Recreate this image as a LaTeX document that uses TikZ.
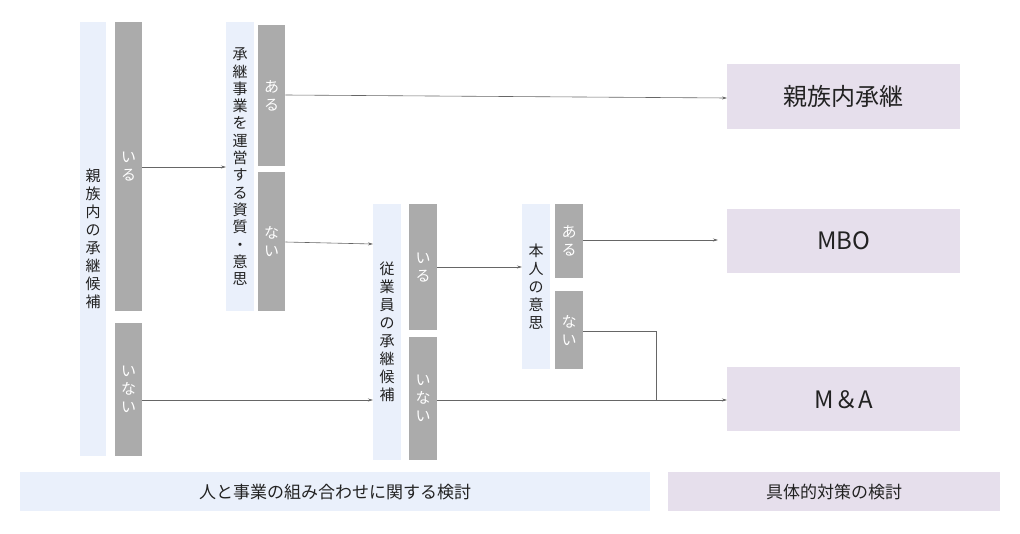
\documentclass[tikz,border=0pt]{standalone}
\usepackage{fontspec}
\setmainfont{Noto Sans CJK JP}
\usetikzlibrary{arrows.meta}
\definecolor{lb}{HTML}{EAF0FB}
\definecolor{gr}{HTML}{ABABAB}
\definecolor{pu}{HTML}{E6DFEC}
\definecolor{tx}{HTML}{222222}
\tikzset{
 box/.style={anchor=north west,inner sep=0pt,align=center},
 lbv/.style={box,fill=lb,text=tx,font=\fontsize{15}{18}\selectfont},
 grv/.style={box,fill=gr,text=white,font=\fontsize{15}{18}\selectfont},
 pub/.style={box,fill=pu,text=tx,font=\fontsize{24}{28}\selectfont},
 bar/.style={box,text=tx,font=\fontsize{17}{20}\selectfont},
 arr/.style={draw=gray!80!black,line width=0.6pt,-{Stealth[length=5pt,width=3pt]}},
}
\begin{document}
\begin{tikzpicture}[x=1pt,y=-1pt]
\useasboundingbox (0,0) rectangle (1020,533);
\node[lbv,minimum width=26,minimum height=434] (a) at (80,22) {親\\族\\内\\の\\承\\継\\候\\補};
\node[grv,minimum width=27,minimum height=289] (a1) at (115,22) {い\\る};
\node[grv,minimum width=27,minimum height=133] (a2) at (115,323) {い\\な\\い};
\node[lbv,minimum width=28,minimum height=289,font=\fontsize{15}{17.3}\selectfont] (b) at (226,22) {承\\継\\事\\業\\を\\運\\営\\す\\る\\資\\質\\・\\意\\思};
\node[grv,minimum width=27,minimum height=141] (b1) at (258,25) {あ\\る};
\node[grv,minimum width=27,minimum height=139] (b2) at (258,172) {な\\い};
\node[lbv,minimum width=28,minimum height=256] (c) at (373,204) {従\\業\\員\\の\\承\\継\\候\\補};
\node[grv,minimum width=28,minimum height=126] (c1) at (409,204) {い\\る};
\node[grv,minimum width=28,minimum height=123] (c2) at (409,337) {い\\な\\い};
\node[lbv,minimum width=28,minimum height=165] (d) at (522,204) {本\\人\\の\\意\\思};
\node[grv,minimum width=28,minimum height=74] (d1) at (555,204) {あ\\る};
\node[grv,minimum width=28,minimum height=78] (d2) at (555,291) {な\\い};
\node[pub,minimum width=233,minimum height=65] (p1) at (727,64) {親族内承継};
\node[pub,minimum width=233,minimum height=64] (p2) at (727,209) {MBO};
\node[pub,minimum width=233,minimum height=64] (p3) at (727,367) {M＆A};
\node[bar,fill=lb,minimum width=630,minimum height=39] (q1) at (20,472) {人と事業の組み合わせに関する検討};
\node[bar,fill=pu,minimum width=332,minimum height=39] (q2) at (668,472) {具体的対策の検討};
\draw[arr] (a1.east|-0,167) -- (b.west|-0,167);
\draw[arr] (b1.east|-0,95) -- (p1.west|-0,98);
\draw[arr] (b2.east|-0,242) -- (c.west|-0,244);
\draw[arr] (c1.east|-0,267) -- (d.west|-0,267);
\draw[arr] (d1.east|-0,240) -- (718,240);
\draw[arr] (a2.east|-0,400) -- (c.west|-0,400);
\draw[arr] (c2.east|-0,400) -- (p3.west|-0,400);
\coordinate (k) at (656,331);
\draw[draw=gray!80!black,line width=0.6pt] (d2.east|-k) -- (k) -- (656,400);
\end{tikzpicture}
\end{document}
